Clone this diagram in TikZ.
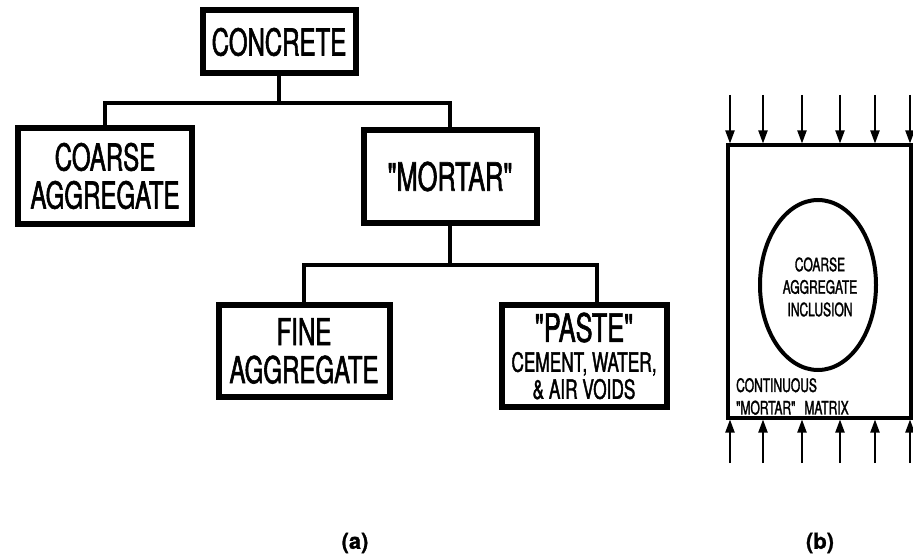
\documentclass[tikz,border=0pt]{standalone}
\usepackage{fontspec}
\newfontfamily\cond[FakeStretch=0.65,FakeBold=1.5]{TeX Gyre Heros}
\newfontfamily\heros[FakeBold=1]{TeX Gyre Heros}
\usetikzlibrary{arrows.meta}
\tikzset{
  bigbox/.style={draw, line width=6pt, inner sep=0pt, outer sep=0pt, align=center,
    font=\cond\fontsize{37}{38}\selectfont},
  conn/.style={line width=3.2pt, line cap=butt},
  frame/.style={line width=3.2pt},
  load/.style={line width=2pt, -{Triangle[width=9pt,length=13pt]}},
  smalltxt/.style={inner sep=0pt, align=center, font=\cond\fontsize{18.5}{22.5}\selectfont},
  lab/.style={inner sep=0pt, font=\heros\bfseries\fontsize{22}{24}\selectfont}
}
\begin{document}
\begin{tikzpicture}[x=1pt,y=-1pt]
\useasboundingbox[fill=white] (0,0) rectangle (913,559);

% ---- panel (a) ----
\node[bigbox, minimum width=153pt, minimum height=63pt] (concrete) at (279,42) {CONCRETE};
\node[bigbox, minimum width=174pt, minimum height=96pt] (coarse) at (105,176) {COARSE\\AGGREGATE};
\node[bigbox, minimum width=173pt, minimum height=93pt] (mortar) at (450,176.5) {{\fontsize{39}{40}\selectfont"MORTAR"}};
\node[bigbox, minimum width=171pt, minimum height=92pt] (fine) at (304,351) {FINE\\AGGREGATE};
\node[bigbox, minimum width=165pt, minimum height=102pt,
      font=\cond\fontsize{26.5}{27}\selectfont] (paste) at (584,356)
  {{\fontsize{39}{40}\selectfont"PASTE"}\\[3pt]CEMENT, WATER,\\\&\ AIR VOIDS};

\coordinate (bus1) at (0,103);
\coordinate (bus2) at (0,265);
\draw[conn] (concrete.south) -- (concrete.south |- bus1);
\draw[conn] (coarse.north) |- (mortar.north |- bus1) -- (mortar.north);
\draw[conn] (mortar.south) -- (mortar.south |- bus2);
\draw[conn] (fine.north) |- ([xshift=13pt]paste.north |- bus2) -- ([xshift=13pt]paste.north);

\node[lab] (la) at (355,543) {(a)};

% ---- panel (b) ----
\coordinate (tl) at (728,145);
\coordinate (br) at (911,418);
\draw[frame] (911,145) -- (tl) -- (728,418) -- (br) -- cycle;
\draw[line width=4pt] (818,285) ellipse [x radius=58, y radius=85];
\node[smalltxt] (incl) at (820,287) {COARSE\\AGGREGATE\\INCLUSION};
\node[smalltxt, align=left, anchor=south west] (matrix) at (736,415)
  {CONTINUOUS\\"MORTAR"\hspace{9pt}MATRIX};

\foreach \xx in {730,763,802,840,875,910}{
  \draw[load] (\xx,95) -- (\xx,143.5);
  \draw[load] (\xx,463) -- (\xx,419.5);
}
\node[lab] (lb) at (820,543) {(b)};
\end{tikzpicture}
\end{document}
